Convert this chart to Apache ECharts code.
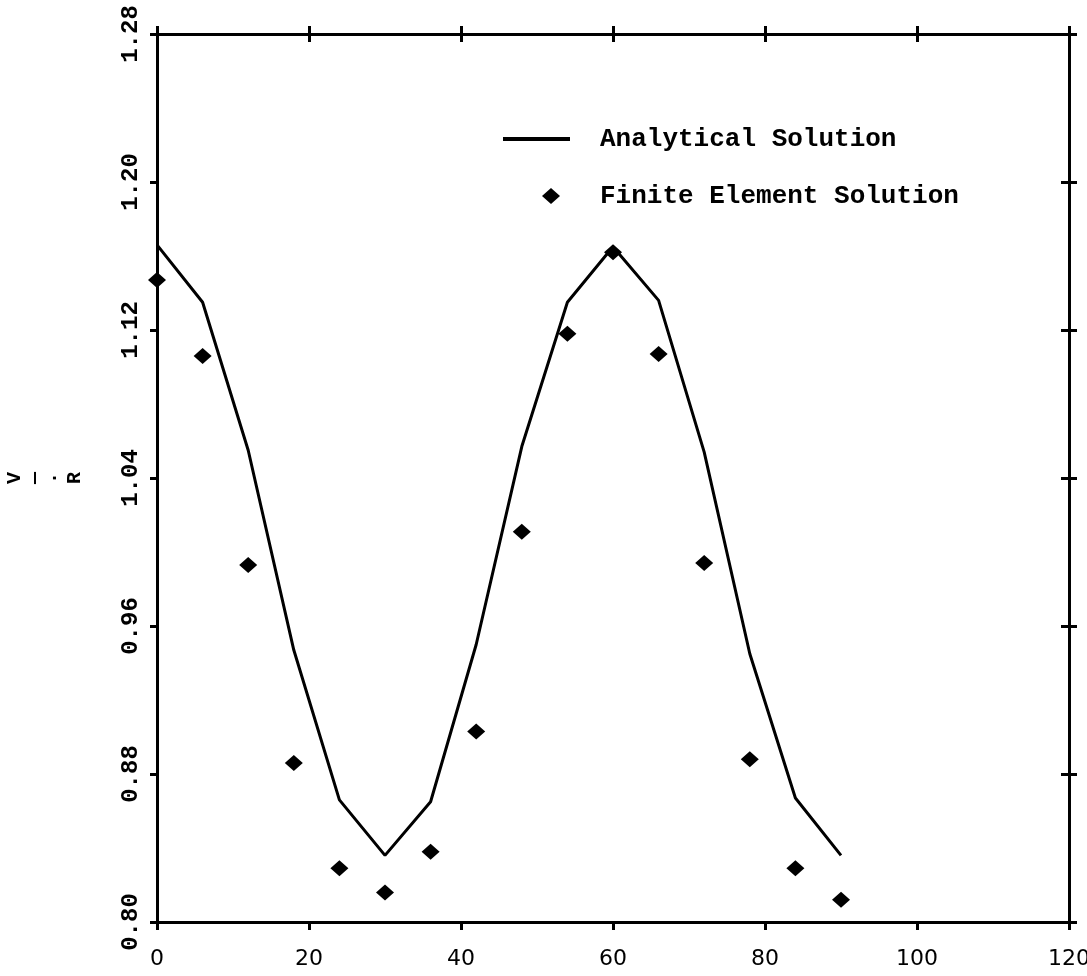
<!DOCTYPE html>
<html>
<head>
<meta charset="utf-8">
<script src="https://cdn.jsdelivr.net/npm/echarts@6/dist/echarts.min.js"></script>
<style>
html,body{margin:0;padding:0;background:#fff;}
#chart{width:1087px;height:976px;}
</style>
</head>
<body>
<div id="chart"></div>
<script>
// Angle positions (x axis)
const angles = [0, 6, 12, 18, 24, 30, 36, 42, 48, 54, 60, 66, 72, 78, 84, 90];
// Analytical solution (line)
const analytical = [1.166, 1.135, 1.055, 0.947, 0.866, 0.836, 0.865, 0.950, 1.057, 1.135, 1.165, 1.136, 1.054, 0.945, 0.867, 0.836];
// Finite element solution (diamond markers)
const finiteElement = [1.147, 1.106, 0.993, 0.886, 0.829, 0.816, 0.838, 0.903, 1.011, 1.118, 1.162, 1.107, 0.994, 0.888, 0.829, 0.812];
// Axis settings
const xTicks = [0, 20, 40, 60, 80, 100, 120];
const yTicks = ['0.80', '0.88', '0.96', '1.04', '1.12', '1.20', '1.28'];
const seriesNames = ['Analytical Solution', 'Finite Element Solution'];
const yAxisTitle = 'V\n—\n·\nR';

const xMin = xTicks[0], xMax = xTicks[xTicks.length - 1], xStep = xTicks[1] - xTicks[0];
const yMin = parseFloat(yTicks[0]), yMax = parseFloat(yTicks[yTicks.length - 1]);
const yStep = Math.round((parseFloat(yTicks[1]) - yMin) * 100) / 100;

const pair = (xs, ys) => xs.map((x, i) => [x, ys[i]]);

const lineStyleAxis = { color: '#000', width: 3 };
const tickStyle = { color: '#000', width: 3 };

function xAxisCfg(pos, showLabel, inside, showLine) {
  return {
    type: 'value', position: pos, min: xMin, max: xMax, interval: xStep,
    axisLine: { show: showLine, onZero: false, lineStyle: lineStyleAxis },
    axisTick: { show: true, inside: inside, length: 8, lineStyle: tickStyle },
    axisLabel: {
      show: showLabel, margin: 26, color: '#000',
      fontFamily: 'DejaVu Sans', fontSize: 22,
      formatter: v => String(v)
    },
    splitLine: { show: false }
  };
}
function yAxisCfg(pos, showLabel, inside, showLine, len) {
  return {
    type: 'value', position: pos, min: yMin, max: yMax, interval: yStep,
    axisLine: { show: showLine, onZero: false, lineStyle: lineStyleAxis },
    axisTick: { show: true, inside: inside, length: len, lineStyle: tickStyle },
    axisLabel: {
      show: showLabel, rotate: 90, margin: 14, color: '#000',
      fontFamily: 'Liberation Mono', fontWeight: 'bold', fontSize: 24,
      formatter: v => v.toFixed(2)
    },
    splitLine: { show: false }
  };
}

const chart = echarts.init(document.getElementById('chart'), null, { renderer: 'canvas' });

const yMain = yAxisCfg('left', true, false, true, 7);
yMain.name = yAxisTitle;
yMain.nameLocation = 'middle';
yMain.nameRotate = 90;
yMain.nameGap = 72;
yMain.nameTextStyle = {
  color: '#000', fontFamily: 'Liberation Mono', fontWeight: 'bold',
  fontSize: 20, lineHeight: 20
};

chart.setOption({
  animation: false,
  backgroundColor: '#fff',
  grid: { left: 157, right: 18, top: 34, bottom: 54, containLabel: false, outerBoundsMode: 'none' },
  legend: [
    {
      data: [{ name: seriesNames[0], icon: 'rect' }], left: 503, top: 126, orient: 'vertical',
      padding: 0, itemWidth: 67, itemHeight: 4,
      textStyle: { color: '#000', fontFamily: 'Liberation Mono', fontWeight: 'bold', fontSize: 26, padding: [0, 0, 0, 25] }
    },
    {
      data: [seriesNames[1]], left: 542, top: 183, orient: 'vertical',
      padding: 0, itemWidth: 18, itemHeight: 16,
      textStyle: { color: '#000', fontFamily: 'Liberation Mono', fontWeight: 'bold', fontSize: 26, padding: [0, 0, 0, 35] }
    }
  ],
  xAxis: [
    xAxisCfg('bottom', true, false, true),
    xAxisCfg('top', false, false, true),
    xAxisCfg('top', false, true, false)
  ],
  yAxis: [
    yMain,
    yAxisCfg('right', false, false, true, 8),
    yAxisCfg('right', false, true, false, 8)
  ],
  series: [
    {
      name: seriesNames[0], type: 'line', xAxisIndex: 0, yAxisIndex: 0,
      data: pair(angles, analytical),
      symbol: 'none', smooth: false,
      lineStyle: { color: '#000', width: 3 },
      itemStyle: { color: '#000' }
    },
    {
      name: seriesNames[1], type: 'scatter', xAxisIndex: 0, yAxisIndex: 0,
      data: pair(angles, finiteElement),
      symbol: 'diamond', symbolSize: [18, 16],
      itemStyle: { color: '#000', opacity: 1 }
    }
  ]
});
</script>
</body>
</html>
